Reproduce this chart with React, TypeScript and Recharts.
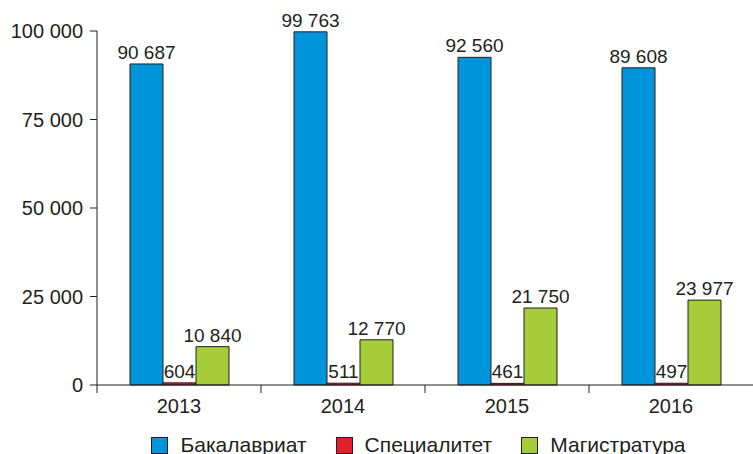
import React from "react"
import { BarChart, Bar, XAxis, YAxis, Legend, LabelList } from "recharts"

const years = ["2013", "2014", "2015", "2016"]
const bachelor = [90687, 99763, 92560, 89608]
const specialist = [604, 511, 461, 497]
const master = [10840, 12770, 21750, 23977]
const yTicks = [0, 25000, 50000, 75000, 100000]

const data = years.map((year, i) => ({
  year,
  bachelor: bachelor[i],
  specialist: specialist[i],
  master: master[i],
}))

const series = [
  { key: "bachelor", name: "Бакалавриат", color: "#0095DA" },
  { key: "specialist", name: "Специалитет", color: "#E3202A" },
  { key: "master", name: "Магистратура", color: "#A5CD39" },
]

const font = "'Liberation Sans', Arial, sans-serif"
const ink = "#231f20"

const fmt = (v: number) => String(v).replace(/\B(?=(\d{3})+(?!\d))/g, " ")

function YearTick(props: any) {
  const { x, y, payload } = props
  const half = payload && payload.offset ? payload.offset : 82
  return (
    <g>
      <line x1={x - half} x2={x - half} y1={y} y2={y + 8} stroke={ink} strokeWidth={1} />
      <text x={x} y={y + 28} textAnchor="middle" fontSize={20} fill={ink} fontFamily={font}>
        {payload.value}
      </text>
    </g>
  )
}

// value label drawn as plain svg text so it never wraps to the bar width
function ValueLabel(props: any) {
  const { x, y, width, value } = props
  return (
    <text
      x={Number(x) + Number(width) / 2}
      y={Number(y) - 5}
      textAnchor="middle"
      fontSize={19}
      fill={ink}
      fontFamily={font}
      style={{ whiteSpace: "pre" }}
    >
      {fmt(Number(value))}
    </text>
  )
}

function LegendBox() {
  return (
    <div
      style={{
        display: "flex",
        justifyContent: "center",
        alignItems: "center",
        paddingLeft: 113,
        paddingTop: 14,
        fontFamily: font,
        fontSize: 21,
        lineHeight: "21px",
        color: ink,
      }}
    >
      {series.map((s) => (
        <div key={s.key} style={{ display: "flex", alignItems: "center", marginRight: 29 }}>
          <span
            style={{
              display: "inline-block",
              width: 15,
              height: 15,
              background: s.color,
              border: `1px solid ${ink}`,
              marginRight: 12,
              marginTop: 2,
            }}
          />
          <span>{s.name}</span>
        </div>
      ))}
    </div>
  )
}

export default function App() {
  return (
    <div style={{ position: "absolute", left: 0, top: 0, background: "#fff" }}>
      <BarChart
        width={753}
        height={454}
        data={data}
        margin={{ top: 31, right: 0, bottom: 0, left: 0 }}
        barGap={0}
        barSize={33}
      >
        <XAxis
          dataKey="year"
          axisLine={{ stroke: ink }}
          tickSize={0}
          tickMargin={0}
          tick={<YearTick />}
          height={35}
          interval={0}
        />
        <YAxis
          width={97}
          domain={[0, 100000]}
          ticks={yTicks}
          tickFormatter={fmt}
          axisLine={{ stroke: ink }}
          tickLine={{ stroke: ink }}
          tickSize={7}
          tickMargin={7}
          tick={{ fontSize: 20, fill: ink, fontFamily: font }}
        />
        <Legend verticalAlign="bottom" height={34} content={<LegendBox />} />
        {series.map((s) => (
          <Bar
            key={s.key}
            dataKey={s.key}
            name={s.name}
            fill={s.color}
            stroke={ink}
            strokeWidth={1}
            isAnimationActive={false}
          >
            <LabelList dataKey={s.key} content={<ValueLabel />} />
          </Bar>
        ))}
      </BarChart>
    </div>
  )
}
